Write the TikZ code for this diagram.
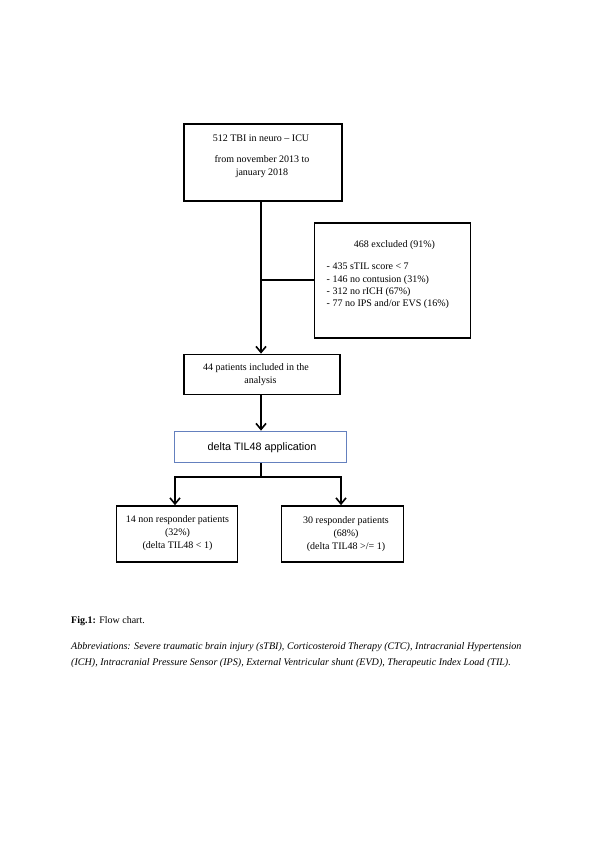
\documentclass[tikz,border=0pt]{standalone}
\usepackage{fontspec}
\setmainfont{Liberation Serif}
\newfontfamily\arialfont{Liberation Sans}
\usetikzlibrary{arrows.meta,calc}
\definecolor{boxblue}{RGB}{100,128,190}
\tikzset{
  box/.style={draw=black,line width=1.7pt,minimum width=#1,inner sep=0pt},
  txt/.style={font=\fontsize{10}{13}\selectfont,inner sep=0pt,align=center},
  conn/.style={line width=2pt},
  arr/.style={line width=2pt,-{Straight Barb[length=6pt,width=10pt,line width=1.6pt]}}
}
\begin{document}
\begin{tikzpicture}[x=1pt,y=-1pt]
\useasboundingbox[fill=white] (0,0) rectangle (595,842);
% boxes
\node[box=158pt,minimum height=77pt] (b1) at (263,162.5) {};
\node[box=156pt,minimum height=115pt] (ex) at (392.5,280.5) {};
\node[box=156pt,minimum height=40pt] (b2) at (262,374.5) {};
\node[box=172pt,minimum height=31pt,draw=boxblue,line width=1.7pt] (bl) at (260.5,447) {};
\node[box=121pt,minimum height=56pt] (lb) at (177,534) {};
\node[box=122pt,minimum height=56pt] (rb) at (342.5,534) {};
% texts
\node[txt] (t1a) at (261,138) {512 TBI in neuro -- ICU};
\node[txt] (t1b) at (262,166.5) {from november 2013 to\\january 2018};
\node[txt] (tex) at (394.5,245.5) {468 excluded (91\%)};
\node[txt,align=left,anchor=west,font=\fontsize{10}{12.2}\selectfont] (tlist) at (326.5,286) {- 435 sTIL score < 7\\- 146 no contusion (31\%)\\- 312 no rICH (67\%)\\- 77 no IPS and/or EVS (16\%)};
\node[txt] (t2a) at (256,368) {44 patients included in the};
\node[txt] (t2b) at (260.5,381.5) {analysis};
\node[txt,font=\arialfont\fontsize{10.8}{12}\selectfont] (tbl) at (262,448) {delta TIL48 application};
\node[txt] (tl) at (177.5,533.5) {14 non responder patients\\(32\%)\\(delta TIL48 < 1)};
\node[txt] (tr) at (346,534.5) {30 responder patients\\(68\%)\\(delta TIL48 >/= 1)};
% connectors
\coordinate (j1) at (261,280);
\coordinate (j2) at (261,477);
\coordinate (jl) at (175,477);
\coordinate (jr) at (341,477);
\draw[arr] (b1.south -| j1) -- (b2.north -| j1);
\draw[conn] (j1) -- (ex.west |- j1);
\draw[arr] (b2.south -| j1) -- (bl.north -| j1);
\draw[conn] (bl.south -| j2) -- (j2);
\draw[conn,line cap=rect] (jl) -- (jr);
\draw[arr] (jl) -- (lb.north -| jl);
\draw[arr] (jr) -- (rb.north -| jr);
% caption
\node[anchor=west,inner sep=0pt,font=\fontsize{10}{12}\selectfont] (cap) at (71,621) {\textbf{Fig.1:} Flow chart.};
\node[anchor=west,inner sep=0pt,align=left,font=\itshape\fontsize{10.1}{16}\selectfont] (abbr) at (71,655) {Abbreviations: Severe traumatic brain injury (sTBI), Corticosteroid Therapy (CTC), Intracranial Hypertension\\(ICH), Intracranial Pressure Sensor (IPS), External Ventricular shunt (EVD), Therapeutic Index Load (TIL).};
\end{tikzpicture}
\end{document}
